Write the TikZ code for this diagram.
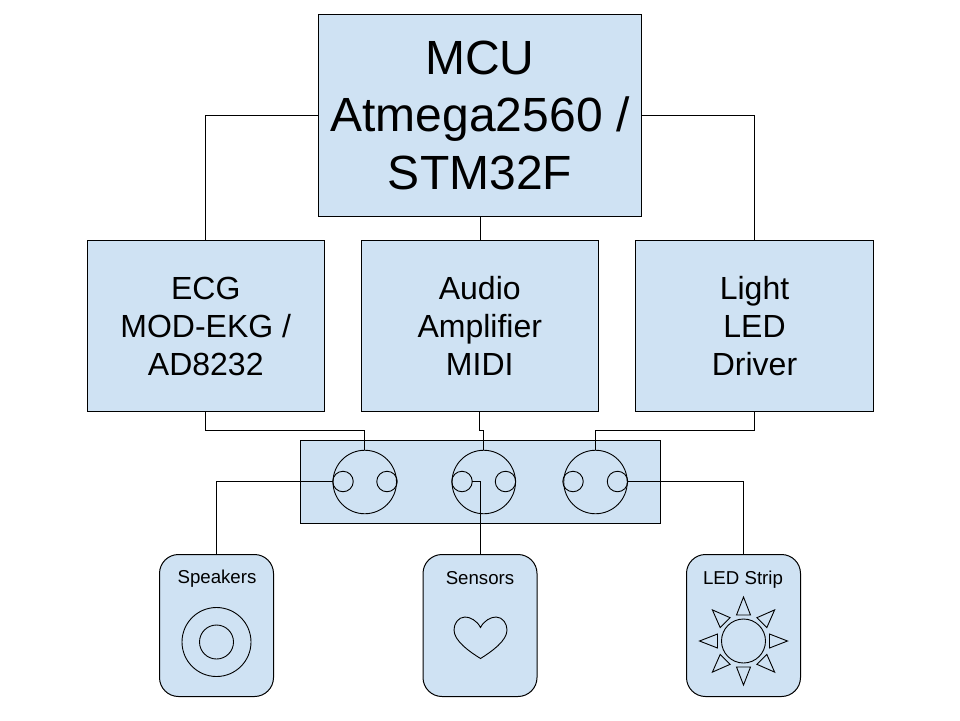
\documentclass[tikz,border=0pt]{standalone}
\usepackage{fontspec}
\setmainfont{Liberation Sans}
\definecolor{boxfill}{HTML}{CFE2F3}
\definecolor{inkline}{HTML}{000000}
\newcommand{\bigtop}{\rule{0pt}{43.4pt}}
\newcommand{\bigbot}{\rule[-10pt]{0pt}{10pt}}
\newcommand{\midtop}{\rule{0pt}{27.6pt}}
\newcommand{\midbot}{\rule[-4pt]{0pt}{4pt}}
\tikzset{
  every node/.style={inner sep=0pt,outer sep=0pt},
  boxshape/.style={draw=inkline,fill=boxfill,line width=1pt,align=center,text=black},
  bigbox/.style={boxshape,minimum width=322.5pt,minimum height=202pt,font=\fontsize{48}{57.5}\selectfont},
  midbox/.style={boxshape,minimum width=237.5pt,minimum height=171pt,font=\fontsize{32}{38}\selectfont},
  devbox/.style={boxshape,rounded corners=19pt,minimum width=114pt,minimum height=142pt},
  devlabel/.style={text=black,anchor=base,font=\fontsize{18.67}{22}\selectfont},
  wire/.style={draw=inkline,line width=1pt},
  glyph/.style={draw=inkline,line width=0.9pt},
  jackbig/.style={circle,glyph,minimum size=63.5pt},
  jacksmall/.style={circle,glyph,minimum size=20.5pt},
  ray/.style={glyph,line join=miter}
}
\begin{document}
\begin{tikzpicture}[x=1pt,y=-1pt]
\useasboundingbox (0,0) rectangle (960,720);
\node[bigbox] (mcu) at (480,115) {\bigtop MCU\\Atmega2560 /\\STM32F\bigbot};
\node[midbox] (ecg) at (205.75,325.5) {\midtop ECG\\MOD-EKG /\\AD8232\midbot};
\node[midbox] (audio) at (479.75,325.5) {\midtop Audio\\Amplifier\\MIDI\midbot};
\node[midbox] (light) at (754.5,325.5) {\midtop Light\\LED\\Driver\midbot};
\node[boxshape,minimum width=359.5pt,minimum height=82.5pt] (bar) at (480.5,482) {};
\node[jackbig] (ja) at (364.75,482) {};
\node[jackbig] (jb) at (483.75,482) {};
\node[jackbig] (jc) at (595.5,482) {};
\node[jacksmall] (jal) at (343,481.5) {};
\node[jacksmall] (jar) at (387,481.5) {};
\node[jacksmall] (jbl) at (462,481.5) {};
\node[jacksmall] (jbr) at (505.5,481.5) {};
\node[jacksmall] (jcl) at (573,481.5) {};
\node[jacksmall] (jcr) at (617.5,481.5) {};
\node[devbox] (spk) at (216.5,625.5) {};
\node[devbox] (sen) at (480,625.5) {};
\node[devbox] (led) at (743.5,625.5) {};
\node[devlabel] (spklabel) at (217,583.5) {Speakers};
\node[devlabel] (senlabel) at (480,584) {Sensors};
\node[devlabel] (ledlabel) at (743,584) {LED Strip};
% connectors
\draw[wire] (mcu.west |- 0,115) -| (ecg.north);
\draw[wire] (mcu.south) -- (audio.north -| mcu.south);
\draw[wire] (mcu.east |- 0,115) -| (light.north);
\coordinate (busa) at (0,430.5);
\draw[wire] (ecg.south) |- (busa -| ja.north) -- (ja.north);
\draw[wire] (audio.south) |- (busa -| jb.north) -- (jb.north);
\draw[wire] (light.south) |- (busa -| jc.north) -- (jc.north);
\draw[wire] (jal.west) -- ++(-116,0) coordinate (spkturn) -- (spkturn |- spk.north);
\draw[wire] (jbl.east) -- ++(8,0) coordinate (senturn) -- (senturn |- sen.north);
\draw[wire] (jcr.east) -- ++(115.5,0) coordinate (ledturn) -- (ledturn |- led.north);
% speaker
\node[circle,glyph,minimum size=69pt] (spkouter) at (216.5,642) {};
\node[circle,glyph,minimum size=34pt] (spkinner) at (216.5,642) {};
% heart
\draw[glyph,line join=miter] (480.5,627.5)
  .. controls (477,620.5) and (470,617) .. (465,617)
  .. controls (458,617) and (454,624) .. (454,630)
  .. controls (454,641) and (470,652) .. (480.5,658.5)
  .. controls (491,652) and (507,641) .. (507,630)
  .. controls (507,624) and (503,617) .. (496,617)
  .. controls (491,617) and (484,620.5) .. (480.5,627.5) -- cycle;
% sun
\node[circle,glyph,minimum size=44pt] (suncore) at (743.5,641) {};
\foreach \a in {0,45,...,315}{
  \begin{scope}[shift={(743.5,641)},rotate=\a]
    \draw[ray] (44,0) -- (26,-7) -- (26,7) -- cycle;
  \end{scope}
}
\end{tikzpicture}
\end{document}
